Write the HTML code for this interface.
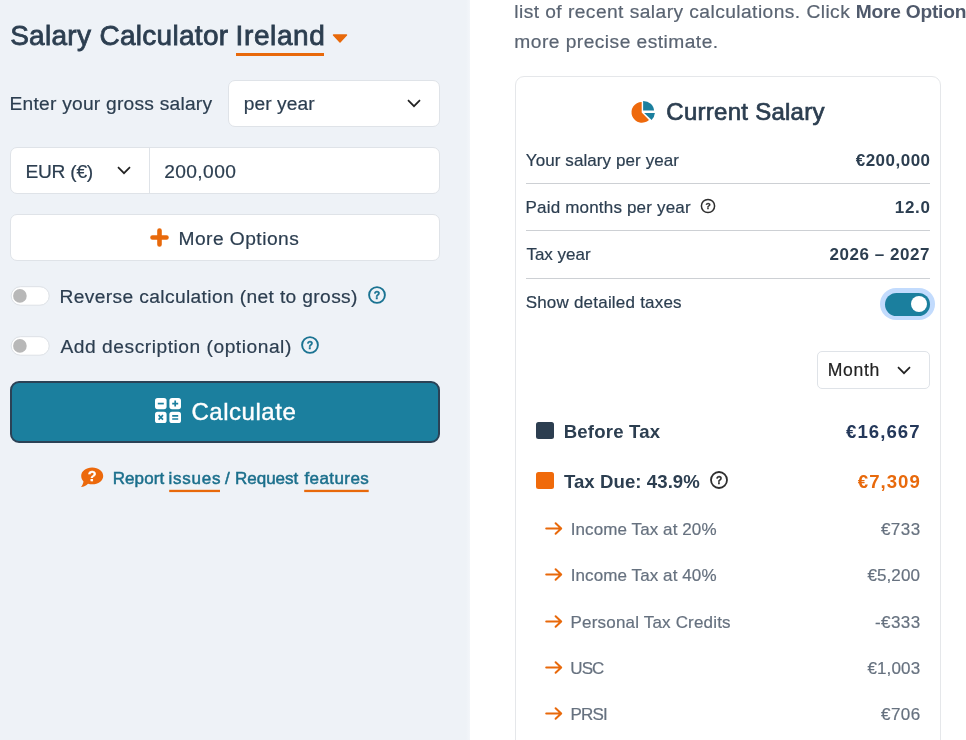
<!DOCTYPE html>
<html lang="en">
<head>
<meta charset="utf-8">
<title>Salary Calculator Ireland</title>
<style>
*{box-sizing:border-box;margin:0;padding:0}
html,body{width:966px;height:740px;overflow:hidden;background:#fff}
body{font-family:"Liberation Sans",sans-serif;color:#2c3e50;position:relative}
.abs{position:absolute;white-space:nowrap}
#left{left:0;top:0;width:470px;height:740px;background:#eef2f7}
.box{background:#fff;border:1px solid #dfe3e8;border-radius:7px}
.t19{font-size:19.2px;line-height:22px;color:#2c3e50}
.t17{font-size:17px;line-height:20px;color:#2c3e50}
.b{font-weight:bold}
.abs{-webkit-text-stroke:0.2px currentColor}
.med{-webkit-text-stroke:0.5px currentColor}
.b{-webkit-text-stroke:0}
svg{position:absolute;overflow:visible}
.tog{width:39px;height:19px;border-radius:9.5px;background:#fff;border:1px solid #e0e4e9}
.knob{width:13.6px;height:13.6px;border-radius:7px;background:#b9b9b9}
.hr{height:1px;background:#cdd0d4}
.g{color:#5f6b7a}
.row{font-size:17px;line-height:20px;color:#66717f}
</style>
</head>
<body>
<div id="left" class="abs"></div>
<div class="abs" style="left:466px;top:0;width:4px;height:740px;background:linear-gradient(90deg,#eef2f7,#f3f6fa)"></div>

<!-- title -->
<div id="tA" class="abs" style="left:10.13px;top:19px;font-size:28px;line-height:34px;letter-spacing:0.301px;-webkit-text-stroke:0.8px currentColor">Salary Calculator</div>
<div id="irl" class="abs" style="left:235.62px;top:19px;font-size:28px;line-height:34px;letter-spacing:0.595px;-webkit-text-stroke:0.8px currentColor">Ireland</div>
<div class="abs" style="left:236px;top:53px;width:88px;height:3px;background:#e8690b"></div>
<svg style="left:332px;top:34px" width="16" height="9" viewBox="0 0 16 9"><path d="M1.5 1 H14.5 L8 8 Z" fill="#e8690b" stroke="#e8690b" stroke-width="1.4" stroke-linejoin="round"/></svg>

<!-- row 1 -->
<div id="lbl1" class="abs t19" style="left:9.57px;top:93px;letter-spacing:0.235px">Enter your gross salary</div>
<div class="abs box" style="left:228px;top:80px;width:212px;height:47px"></div>
<div id="peryear" class="abs t19" style="left:243.68px;top:93px;letter-spacing:0.094px">per year</div>
<svg style="left:407px;top:99px" width="14" height="9" viewBox="0 0 14 9"><path d="M1 1.2 L7 7.2 L13 1.2" fill="none" stroke="#222" stroke-width="1.7"/></svg>

<!-- row 2 -->
<div class="abs box" style="left:10px;top:147px;width:430px;height:47px"></div>
<div class="abs" style="left:149px;top:148px;width:1px;height:45px;background:#dfe3e8"></div>
<div id="eur" class="abs t19" style="left:25.48px;top:161px;letter-spacing:-0.253px">EUR (€)</div>
<svg style="left:117px;top:166px" width="14" height="9" viewBox="0 0 14 9"><path d="M1 1.2 L7 7.2 L13 1.2" fill="none" stroke="#222" stroke-width="1.7"/></svg>
<div id="amt" class="abs t19" style="left:164.21px;top:161px;letter-spacing:0.382px">200,000</div>

<!-- more options -->
<div class="abs box" style="left:10px;top:214px;width:430px;height:47px"></div>
<svg style="left:150px;top:228px" width="19" height="19" viewBox="0 0 19 19"><path d="M9.5 2.5 V16.5 M2.5 9.5 H16.5" fill="none" stroke="#e8690b" stroke-width="4.6" stroke-linecap="round"/></svg>
<div id="more" class="abs t19" style="left:178.55px;top:228px;letter-spacing:0.455px">More Options</div>

<!-- toggles -->
<svg style="left:0;top:0" width="60" height="740"><rect x="11.2" y="286.7" width="38" height="18.5" rx="9.25" fill="#fff" stroke="#dde1e6" stroke-width="1"/><circle cx="19.9" cy="295.9" r="6.8" fill="#b8b8b8"/></svg>
<div id="rev" class="abs t19" style="left:59.61px;top:286px;letter-spacing:0.365px">Reverse calculation (net to gross)</div>
<svg id="h1" style="left:367.5px;top:286.1px" width="18" height="18" viewBox="0 0 18 18"><circle cx="9" cy="9" r="7.9" fill="none" stroke="#1a7392" stroke-width="1.9"/><text x="9" y="12.9" font-size="10.5" font-weight="bold" text-anchor="middle" fill="#1a7392" stroke="#1a7392" stroke-width="0.4" font-family="Liberation Sans, sans-serif">?</text></svg>
<svg style="left:0;top:0" width="60" height="740"><rect x="11.2" y="336.7" width="38" height="18.5" rx="9.25" fill="#fff" stroke="#dde1e6" stroke-width="1"/><circle cx="19.9" cy="345.9" r="6.8" fill="#b8b8b8"/></svg>
<div id="desc" class="abs t19" style="left:60.56px;top:336px;letter-spacing:0.526px">Add description (optional)</div>
<svg id="h2" style="left:301px;top:336.2px" width="18" height="18" viewBox="0 0 18 18"><circle cx="9" cy="9" r="7.9" fill="none" stroke="#1a7392" stroke-width="1.9"/><text x="9" y="12.9" font-size="10.5" font-weight="bold" text-anchor="middle" fill="#1a7392" stroke="#1a7392" stroke-width="0.4" font-family="Liberation Sans, sans-serif">?</text></svg>

<!-- calculate -->
<div class="abs" style="left:10px;top:381px;width:430px;height:62px;background:#1b7f9e;border:2px solid #2b4256;border-radius:9px"></div>
<svg id="calcico" style="left:155px;top:398px" width="26" height="25" viewBox="0 0 26 25">
<g fill="#fff"><rect x="0" y="0" width="11.6" height="11.2" rx="2.6"/><rect x="14.4" y="0" width="11.6" height="11.2" rx="2.6"/><rect x="0" y="13.8" width="11.6" height="11.2" rx="2.6"/><rect x="14.4" y="13.8" width="11.6" height="11.2" rx="2.6"/></g>
<g stroke="#1b7f9e" stroke-width="1.7" fill="none"><path d="M2.8 5.6 H8.8"/><path d="M17.2 5.6 H23.2 M20.2 2.6 V8.6"/><path d="M3.6 17.2 L8 21.6 M8 17.2 L3.6 21.6"/><path d="M17.2 17.8 H23.2 M17.2 21 H23.2"/></g></svg>
<div id="calc" class="abs" style="left:191.46px;top:397px;font-size:24px;line-height:30px;color:#fff;letter-spacing:0.538px;-webkit-text-stroke:0.4px currentColor">Calculate</div>

<!-- report -->
<svg id="bub" style="left:80px;top:467.3px" width="24" height="21" viewBox="0 0 24 21"><path d="M12.2 0.5 C18.4 0.5 23.2 4.2 23.2 8.9 C23.2 13.6 18.4 17.3 12.2 17.3 C10.7 17.3 9.3 17.1 8 16.7 C6.4 18.4 3.8 19.9 0.9 20.1 C2.2 18.6 3.2 16.6 3.5 14.5 C2.1 12.9 1.2 11 1.2 8.9 C1.2 4.2 6 0.5 12.2 0.5 Z" fill="#ec690c"/><text x="12.2" y="14.2" font-size="14.5" font-weight="bold" text-anchor="middle" fill="#fff" stroke="#fff" stroke-width="0.3" font-family="Liberation Sans, sans-serif">?</text></svg>
<div id="rp1" class="abs t17 med" style="left:112.7px;top:469px;color:#1b6f8c;letter-spacing:0.099px">Report</div>
<div id="iss" class="abs t17 med" style="left:168.39px;top:469px;color:#1b6f8c;letter-spacing:0.797px">issues</div>
<div id="rp2" class="abs t17 med" style="left:225.06px;top:469px;color:#1b6f8c;letter-spacing:4.063px">/</div>
<div id="rp3" class="abs t17 med" style="left:234.99px;top:469px;color:#1b6f8c;letter-spacing:-0.003px">Request</div>
<div id="fea" class="abs t17 med" style="left:304.45px;top:469px;color:#1b6f8c;letter-spacing:0.421px">features</div>
<svg style="left:0;top:0" width="470" height="500"><rect x="169.2" y="489.8" width="50.8" height="2.3" fill="#e8690b"/><rect x="304.2" y="489.8" width="64.5" height="2.3" fill="#e8690b"/></svg>

<!-- right -->
<div id="p1a" class="abs" style="left:514.25px;top:-3px;font-size:19.2px;line-height:30px;color:#5a6472;letter-spacing:0.443px">list of recent salary calculations. Click</div>
<div id="p1b" class="abs b" style="left:855.66px;top:-3px;font-size:19.2px;line-height:30px;color:#4f596b;letter-spacing:-0.22px">More Options</div>
<div id="p2" class="abs" style="left:514.35px;top:27px;font-size:19.2px;line-height:30px;color:#5a6472;letter-spacing:0.462px">more precise estimate.</div>

<div class="abs" style="left:515px;top:76px;width:426px;height:700px;border:1px solid #e5e7ea;border-radius:9px;background:#fff"></div>
<svg id="pie" style="left:631px;top:100px" width="24" height="23" viewBox="0 0 24 23">
<path d="M10.7 1.9 A10.4 10.4 0 1 0 18 19.9 L10.7 12.4 Z" fill="#ee690c"/>
<path d="M12.1 0.9 A10.8 9.8 0 0 1 23 10.6 L12.1 10.6 Z" fill="#1b7f9e"/>
<path d="M13.2 13.1 H23.9 A10.9 10.9 0 0 1 20.6 19.9 Z" fill="#1b7f9e"/>
</svg>
<div id="cur" class="abs" style="left:666.29px;top:97px;font-size:24px;line-height:30px;-webkit-text-stroke:0.7px currentColor;letter-spacing:0.269px">Current Salary</div>

<div id="r1" class="abs t17" style="left:525.78px;top:151px;letter-spacing:0.091px">Your salary per year</div>
<div id="v1" class="abs t17 b" style="left:855.74px;top:151px;letter-spacing:0.489px">€200,000</div>
<div class="abs hr" style="left:526px;top:183px;width:404px"></div>
<div id="r2" class="abs t17" style="left:525.5px;top:198px;letter-spacing:0.188px">Paid months per year</div>
<svg id="h3" style="left:699.7px;top:198.3px" width="16" height="16" viewBox="0 0 16 16"><circle cx="8" cy="8" r="6.6" fill="none" stroke="#2e2e2e" stroke-width="1.5"/><text x="8" y="11" font-size="8.6" font-weight="bold" text-anchor="middle" fill="#2e2e2e" stroke="#2e2e2e" stroke-width="0.3" font-family="Liberation Sans, sans-serif">?</text></svg>
<div id="v2" class="abs t17 b" style="left:894.81px;top:198px;letter-spacing:0.682px">12.0</div>
<div class="abs hr" style="left:526px;top:230px;width:404px"></div>
<div id="r3" class="abs t17" style="left:526.39px;top:245px;letter-spacing:0.008px">Tax year</div>
<div id="v3" class="abs t17 b" style="left:829.46px;top:245px;letter-spacing:0.548px">2026 – 2027</div>
<div class="abs hr" style="left:526px;top:278px;width:404px"></div>
<div id="r4" class="abs t17" style="left:525.64px;top:293px;letter-spacing:0.213px">Show detailed taxes</div>

<!-- toggle on -->
<div class="abs" style="left:880px;top:288px;width:55px;height:32px;border-radius:16px;background:#c2dbfd"></div>
<div class="abs" style="left:884.5px;top:292.5px;width:45.5px;height:23px;border-radius:12px;background:#1b7f9e"></div>
<div class="abs" style="left:911.3px;top:296px;width:16.2px;height:16.2px;border-radius:9px;background:#fff"></div>

<!-- month -->
<div class="abs box" style="left:817px;top:351px;width:113px;height:38px;border-radius:5px"></div>
<div id="month" class="abs" style="left:827.64px;top:360px;font-size:17.6px;line-height:20px;color:#222;letter-spacing:0.686px">Month</div>
<svg style="left:897px;top:366px" width="14" height="9" viewBox="0 0 14 9"><path d="M1 1.2 L7 7.2 L13 1.2" fill="none" stroke="#222" stroke-width="1.7"/></svg>

<!-- before tax -->
<div class="abs" style="left:536px;top:422px;width:17.5px;height:17px;border-radius:2.5px;background:#2c3e50"></div>
<div id="bt" class="abs b" style="left:563.73px;top:421px;font-size:18.6px;line-height:22px;letter-spacing:0.172px">Before Tax</div>
<div id="btv" class="abs b" style="left:846.11px;top:421px;font-size:18.6px;line-height:22px;letter-spacing:1.037px;color:#24385a">€16,667</div>

<div class="abs" style="left:536px;top:472px;width:17.5px;height:17px;border-radius:2.5px;background:#f06a0a"></div>
<div id="td" class="abs b" style="left:563.9px;top:471px;font-size:18.6px;line-height:22px;letter-spacing:0.068px">Tax Due: 43.9%</div>
<svg id="h4" style="left:710.4px;top:471px" width="18" height="18" viewBox="0 0 18 18"><circle cx="9" cy="9" r="8" fill="none" stroke="#2e2e2e" stroke-width="1.8"/><text x="9" y="12.5" font-size="10.2" font-weight="bold" text-anchor="middle" fill="#2e2e2e" stroke="#2e2e2e" stroke-width="0.35" font-family="Liberation Sans, sans-serif">?</text></svg>
<div id="tdv" class="abs b" style="left:857.85px;top:471px;font-size:18.6px;line-height:22px;color:#e8690b;letter-spacing:1.001px">€7,309</div>

<!-- detail rows -->
<svg class="arr" style="left:545px;top:522px" width="18" height="13" viewBox="0 0 18 13"><path d="M1.2 6.5 H16 M10.6 1.2 L16.2 6.5 L10.6 11.8" fill="none" stroke="#e8690b" stroke-width="2" stroke-linecap="round" stroke-linejoin="round"/></svg>
<div id="d1" class="abs row" style="left:570.69px;top:520px;letter-spacing:0.098px">Income Tax at 20%</div>
<div id="e1" class="abs row" style="left:880.95px;top:520px;letter-spacing:0.468px">€733</div>

<svg class="arr" style="left:545px;top:568px" width="18" height="13" viewBox="0 0 18 13"><path d="M1.2 6.5 H16 M10.6 1.2 L16.2 6.5 L10.6 11.8" fill="none" stroke="#e8690b" stroke-width="2" stroke-linecap="round" stroke-linejoin="round"/></svg>
<div id="d2" class="abs row" style="left:570.69px;top:566px;letter-spacing:0.098px">Income Tax at 40%</div>
<div id="e2" class="abs row" style="left:867.41px;top:566px;letter-spacing:0.102px">€5,200</div>

<svg class="arr" style="left:545px;top:615px" width="18" height="13" viewBox="0 0 18 13"><path d="M1.2 6.5 H16 M10.6 1.2 L16.2 6.5 L10.6 11.8" fill="none" stroke="#e8690b" stroke-width="2" stroke-linecap="round" stroke-linejoin="round"/></svg>
<div id="d3" class="abs row" style="left:570.58px;top:613px;letter-spacing:0.184px">Personal Tax Credits</div>
<div id="e3" class="abs row" style="left:875.0px;top:613px;letter-spacing:0.407px">-€333</div>

<svg class="arr" style="left:545px;top:661px" width="18" height="13" viewBox="0 0 18 13"><path d="M1.2 6.5 H16 M10.6 1.2 L16.2 6.5 L10.6 11.8" fill="none" stroke="#e8690b" stroke-width="2" stroke-linecap="round" stroke-linejoin="round"/></svg>
<div id="d4" class="abs row" style="left:570.34px;top:659px;letter-spacing:-0.925px">USC</div>
<div id="e4" class="abs row" style="left:867.41px;top:659px;letter-spacing:0.138px">€1,003</div>

<svg class="arr" style="left:545px;top:707px" width="18" height="13" viewBox="0 0 18 13"><path d="M1.2 6.5 H16 M10.6 1.2 L16.2 6.5 L10.6 11.8" fill="none" stroke="#e8690b" stroke-width="2" stroke-linecap="round" stroke-linejoin="round"/></svg>
<div id="d5" class="abs row" style="left:570.58px;top:705px;letter-spacing:-0.873px">PRSI</div>
<div id="e5" class="abs row" style="left:880.95px;top:705px;letter-spacing:0.49px">€706</div>

</body>
</html>
